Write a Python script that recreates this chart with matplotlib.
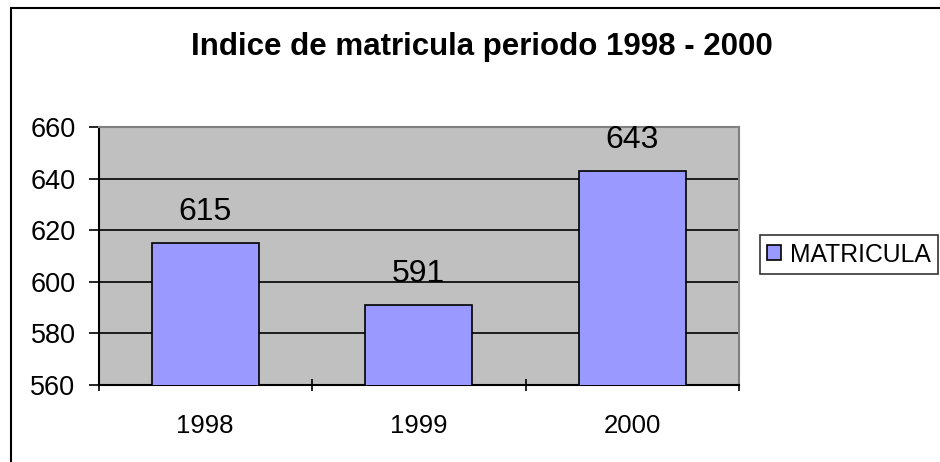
import matplotlib
matplotlib.use("Agg")
import matplotlib.pyplot as plt
from matplotlib.patches import Rectangle

plt.rcParams['font.family'] = ['Liberation Sans', 'DejaVu Sans']

categories = ['1998', '1999', '2000']
values = [615, 591, 643]
series_name = 'MATRICULA'
title = 'Indice de matricula periodo 1998 - 2000'
yticks = [560, 580, 600, 620, 640, 660]

W, H = 940, 462
fig = plt.figure(figsize=(W / 100, H / 100), dpi=100)

# outer chart border
fig.patches.append(Rectangle((11 / W, -0.1), 1.2, 1 - 8 / H + 0.1, transform=fig.transFigure,
                             fill=False, edgecolor='black', linewidth=1.5, zorder=0))

ax = fig.add_axes([98.5 / W, 1 - 385 / H, (739 - 98.5) / W, (385 - 127) / H])
ax.set_facecolor('#C0C0C0')
x = list(range(len(categories)))
bars = ax.bar(x, values, width=0.5, bottom=0, color='#9999FF', edgecolor='black',
              linewidth=1.2, zorder=3, label=series_name)
ax.set_xlim(-0.5, len(categories) - 0.5)
ax.set_ylim(yticks[0], yticks[-1])
ax.set_yticks(yticks)
ax.set_yticklabels([str(t) for t in yticks], fontsize=19.5)
ax.yaxis.grid(True, color='black', linewidth=1.2, zorder=1)
ax.set_axisbelow(True)

ax.set_xticks(x)
ax.set_xticklabels(categories, fontsize=18.5)
ax.tick_params(axis='x', length=0, pad=21)
ax.set_xticks([i - 0.5 for i in range(len(categories) + 1)], minor=True)
ax.tick_params(axis='x', which='minor', length=8, width=1.2, direction='inout', color='black')
ax.tick_params(axis='y', length=7, width=1.2, direction='out', pad=9.5)

for s in ['left', 'bottom']:
    ax.spines[s].set_color('black')
    ax.spines[s].set_linewidth(1.5)
for s in ['top', 'right']:
    ax.spines[s].set_color('#808080')
    ax.spines[s].set_linewidth(1.5)

for xi, v in zip(x, values):
    ax.annotate(str(v), (xi, v), xytext=(0, 11.5), textcoords='offset points',
                ha='center', va='bottom', fontsize=23, zorder=5, annotation_clip=False)

fig.text(482 / W, 1 - 47 / H, title, ha='center', va='center', fontsize=22.5, fontweight='bold')

leg = fig.legend(handles=[bars], labels=[series_name], loc='center left',
                 bbox_to_anchor=(760 / W, 1 - 254.5 / H), fontsize=17.8, frameon=True,
                 fancybox=False, edgecolor='black', handlelength=0.55, handleheight=0.55,
                 handletextpad=0.35, borderpad=0.3, borderaxespad=0)
leg.get_frame().set_linewidth(1.2)

fig.savefig('out.png', dpi=100)
